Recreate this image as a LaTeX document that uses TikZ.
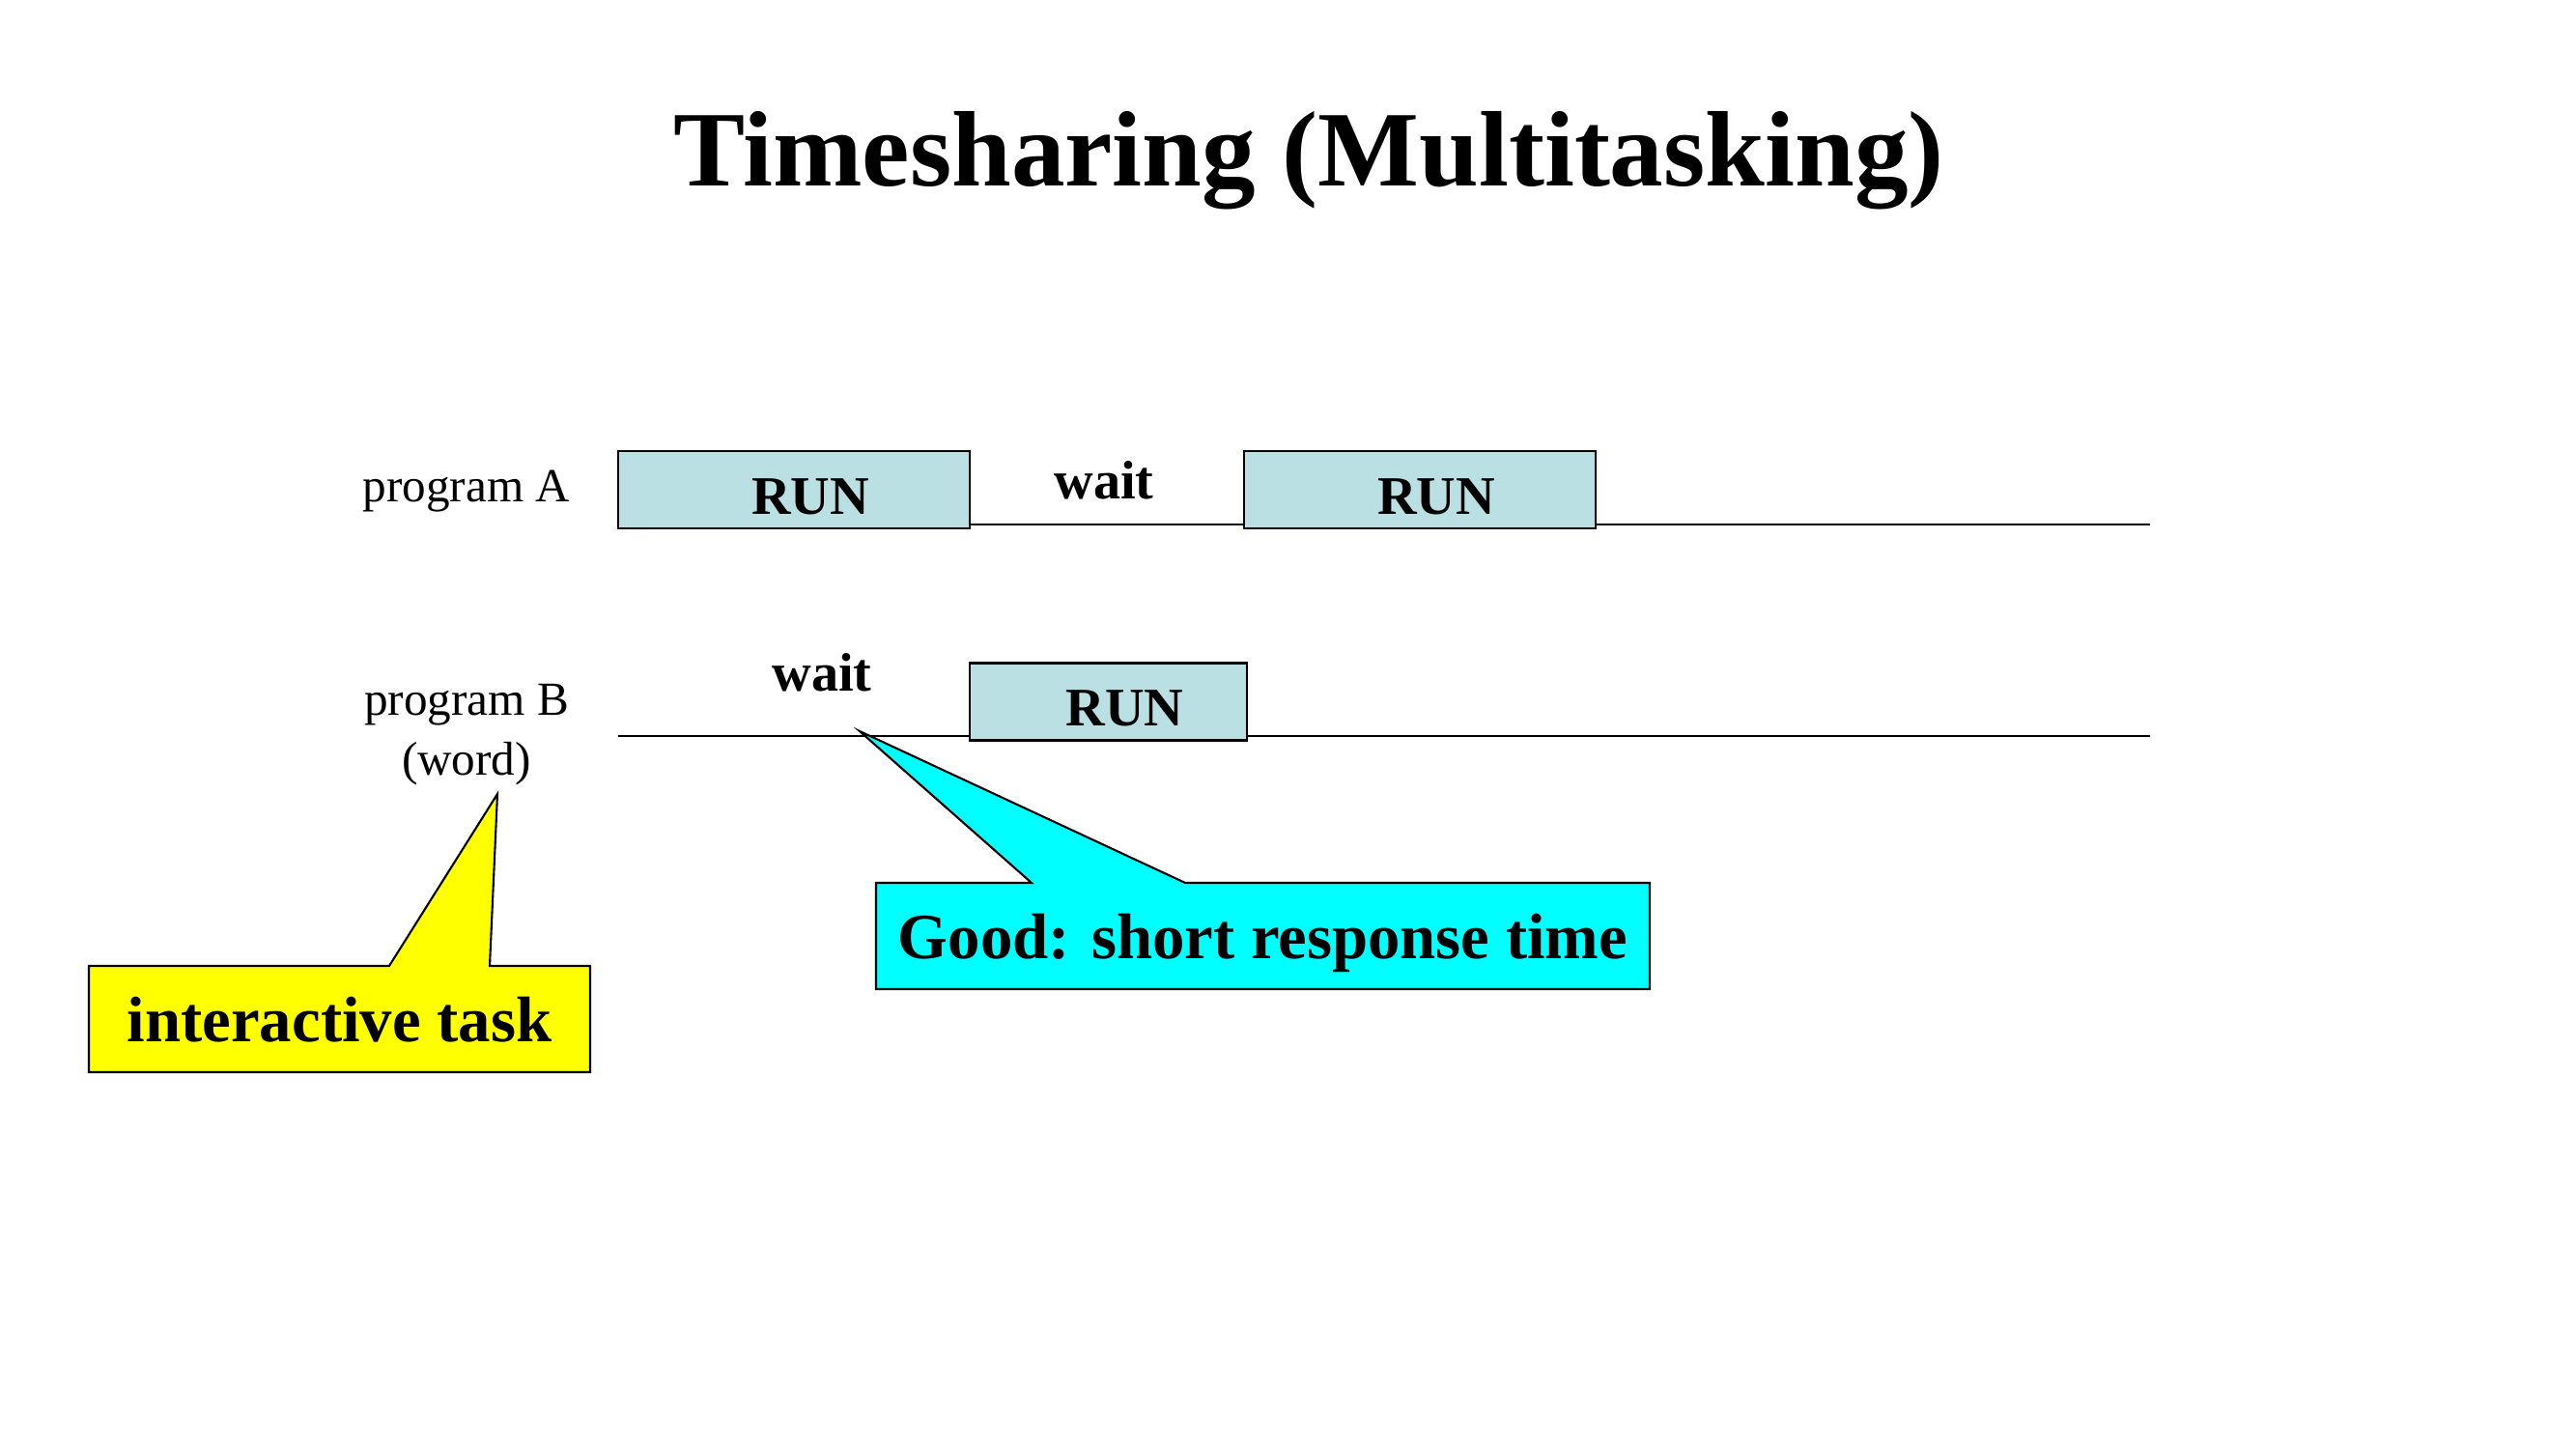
\documentclass[tikz,border=0pt]{standalone}
\usepackage{fontspec}
\setmainfont{Liberation Serif}
\usepackage{tikz}

\definecolor{runfill}{HTML}{BBE0E3}
\definecolor{noteyellow}{HTML}{FFFF00}
\definecolor{notecyan}{HTML}{00FFFF}

\tikzset{
  runbox/.style={draw, fill=runfill, line width=0.8pt, inner sep=0pt,
    minimum height=0.80cm, text height=0.51cm, text depth=0pt,
    font=\fontsize{16}{19}\selectfont\bfseries},
  waittext/.style={anchor=base, inner sep=0pt, font=\fontsize{16}{19}\selectfont\bfseries},
  proglabel/.style={align=center, inner sep=0pt, font=\fontsize{14}{17.8}\selectfont},
  timeline/.style={line width=0.8pt},
  noteline/.style={line width=0.6pt, line join=miter},
  notetext/.style={inner sep=0pt, text depth=0pt, font=\fontsize{19}{23}\selectfont\bfseries}
}

\begin{document}
\begin{tikzpicture}
\useasboundingbox (0,0) rectangle (26.67,14.96);

% title
\node[anchor=base, inner sep=0pt, font=\fontsize{31.6}{38}\selectfont\bfseries] (title) at (13.55,13.03) {Timesharing (Multitasking)};

% time lines
\coordinate (startA) at (6.40,9.53);
\coordinate (endA) at (22.26,9.53);
\coordinate (startB) at (6.40,7.34);
\coordinate (endB) at (22.26,7.34);
\draw[timeline] (startA) -- (endA);
\draw[timeline] (startB) -- (endB);

% program A
\node[proglabel, anchor=base] (progA) at (4.83,9.76) {program A};
\node[runbox, minimum width=3.64cm] (runAone) at (8.22,9.89) {\hspace*{0.34cm}RUN};
\node[waittext] (waitA) at (11.43,9.79) {wait};
\node[runbox, minimum width=3.64cm] (runAtwo) at (14.70,9.89) {\hspace*{0.34cm}RUN};

% program B
\node[proglabel] (progB) at (4.83,7.355) {program B\\(word)};
\node[waittext] (waitB) at (8.51,7.80) {wait};
\node[runbox, minimum width=2.87cm] (runB) at (11.475,7.695) {\hspace*{0.34cm}RUN};

% callouts
\coordinate (tipword) at (5.15,6.74);
\draw[noteline, fill=noteyellow] (0.92,3.86) -- (6.11,3.86) -- (6.11,4.96) -- (5.07,4.96) -- (tipword) -- (4.03,4.96) -- (0.92,4.96) -- cycle;
\node[notetext] (itask) at (3.515,4.41) {interactive task};

\coordinate (tipwait) at (8.90,7.39);
\draw[noteline, fill=notecyan] (9.07,4.72) -- (17.08,4.72) -- (17.08,5.82) -- (12.27,5.82) -- (tipwait) -- (10.68,5.82) -- (9.07,5.82) -- cycle;
\node[notetext] (good) at (13.075,5.27) {Good: short response time};

\end{tikzpicture}
\end{document}
